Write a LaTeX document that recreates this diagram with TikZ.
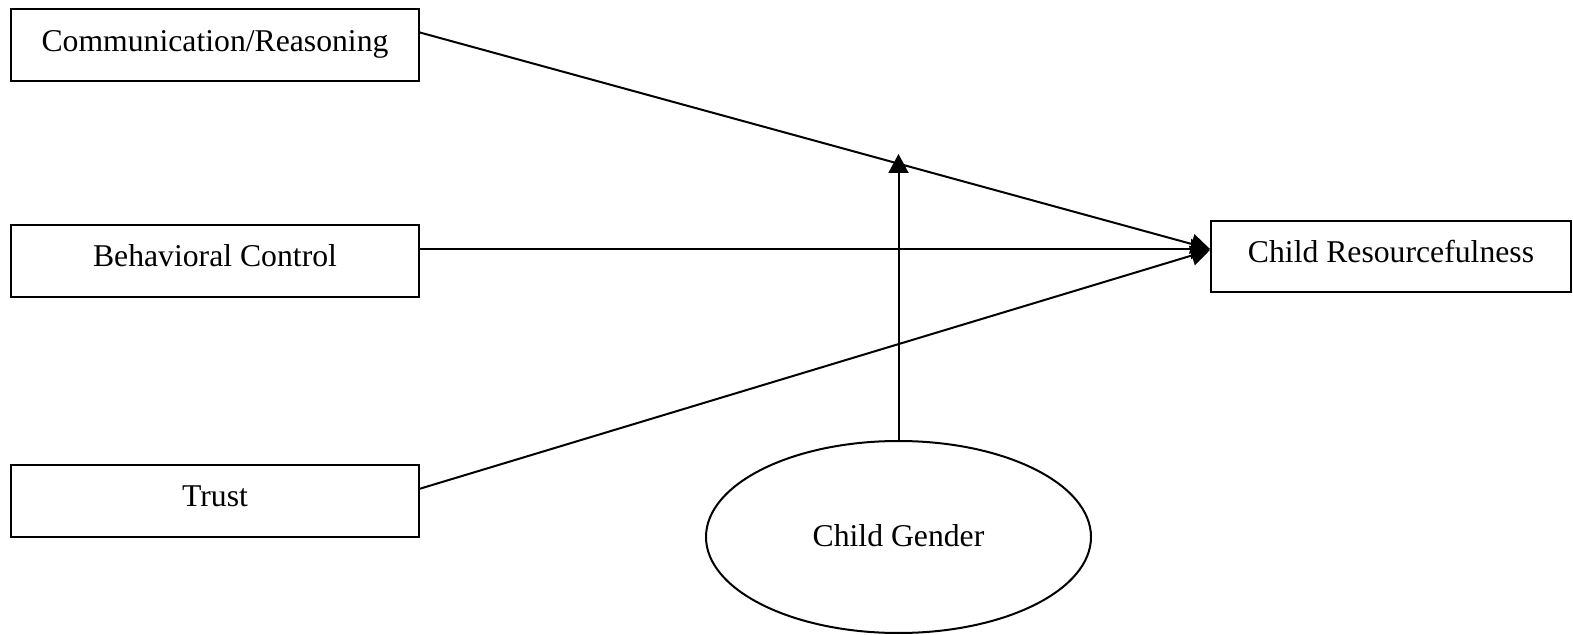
\documentclass[tikz,border=0pt]{standalone}
\usepackage{fontspec}
\setmainfont{Liberation Serif}
\usetikzlibrary{arrows.meta,calc,shapes.geometric}
\begin{document}
\begin{tikzpicture}[x=0.5pt,y=-0.5pt,
  every node/.style={font=\fontsize{15.85}{19}\selectfont, inner sep=0pt, outer sep=0pt,
    text height=11pt, text depth=5pt},
  varbox/.style={draw, line width=1pt, rectangle, minimum height=35.75pt},
  leftbox/.style={varbox, minimum width=204pt},
  oval/.style={draw, line width=1pt, ellipse, minimum width=192.5pt, minimum height=96pt,
    text height=11pt, text depth=2pt},
  path/.style={line width=1pt, -{Triangle[length=9.5pt,width=10pt]}}]
  \useasboundingbox (0,0) rectangle (1573,635);

  % predictors
  \node[leftbox] (comm)  at (215,45.25) {Communication/Reasoning};
  \node[leftbox] (beh)   at (215,261)   {Behavioral Control};
  \node[leftbox] (trust) at (215,501)   {Trust};

  % outcome and moderator
  \node[varbox, minimum width=180pt] (res) at (1391,256.5) {Child Resourcefulness};
  \node[oval] (gender) at (898.5,537) {Child Gender};

  % arrow end points
  \coordinate (tip) at ($(res.west)+(-1,-7.5)$);
  \coordinate (mod) at (898.5,154);

  % paths
  \draw[path] ($(comm.east)+(0,-13)$)  -- (tip);
  \draw[path] ($(beh.east)+(0,-12)$)   -- (tip);
  \draw[path] ($(trust.east)+(0,-12)$) -- ($(tip)+(0,1)$);
  \draw[path] (gender.north) -- (mod);
\end{tikzpicture}
\end{document}
